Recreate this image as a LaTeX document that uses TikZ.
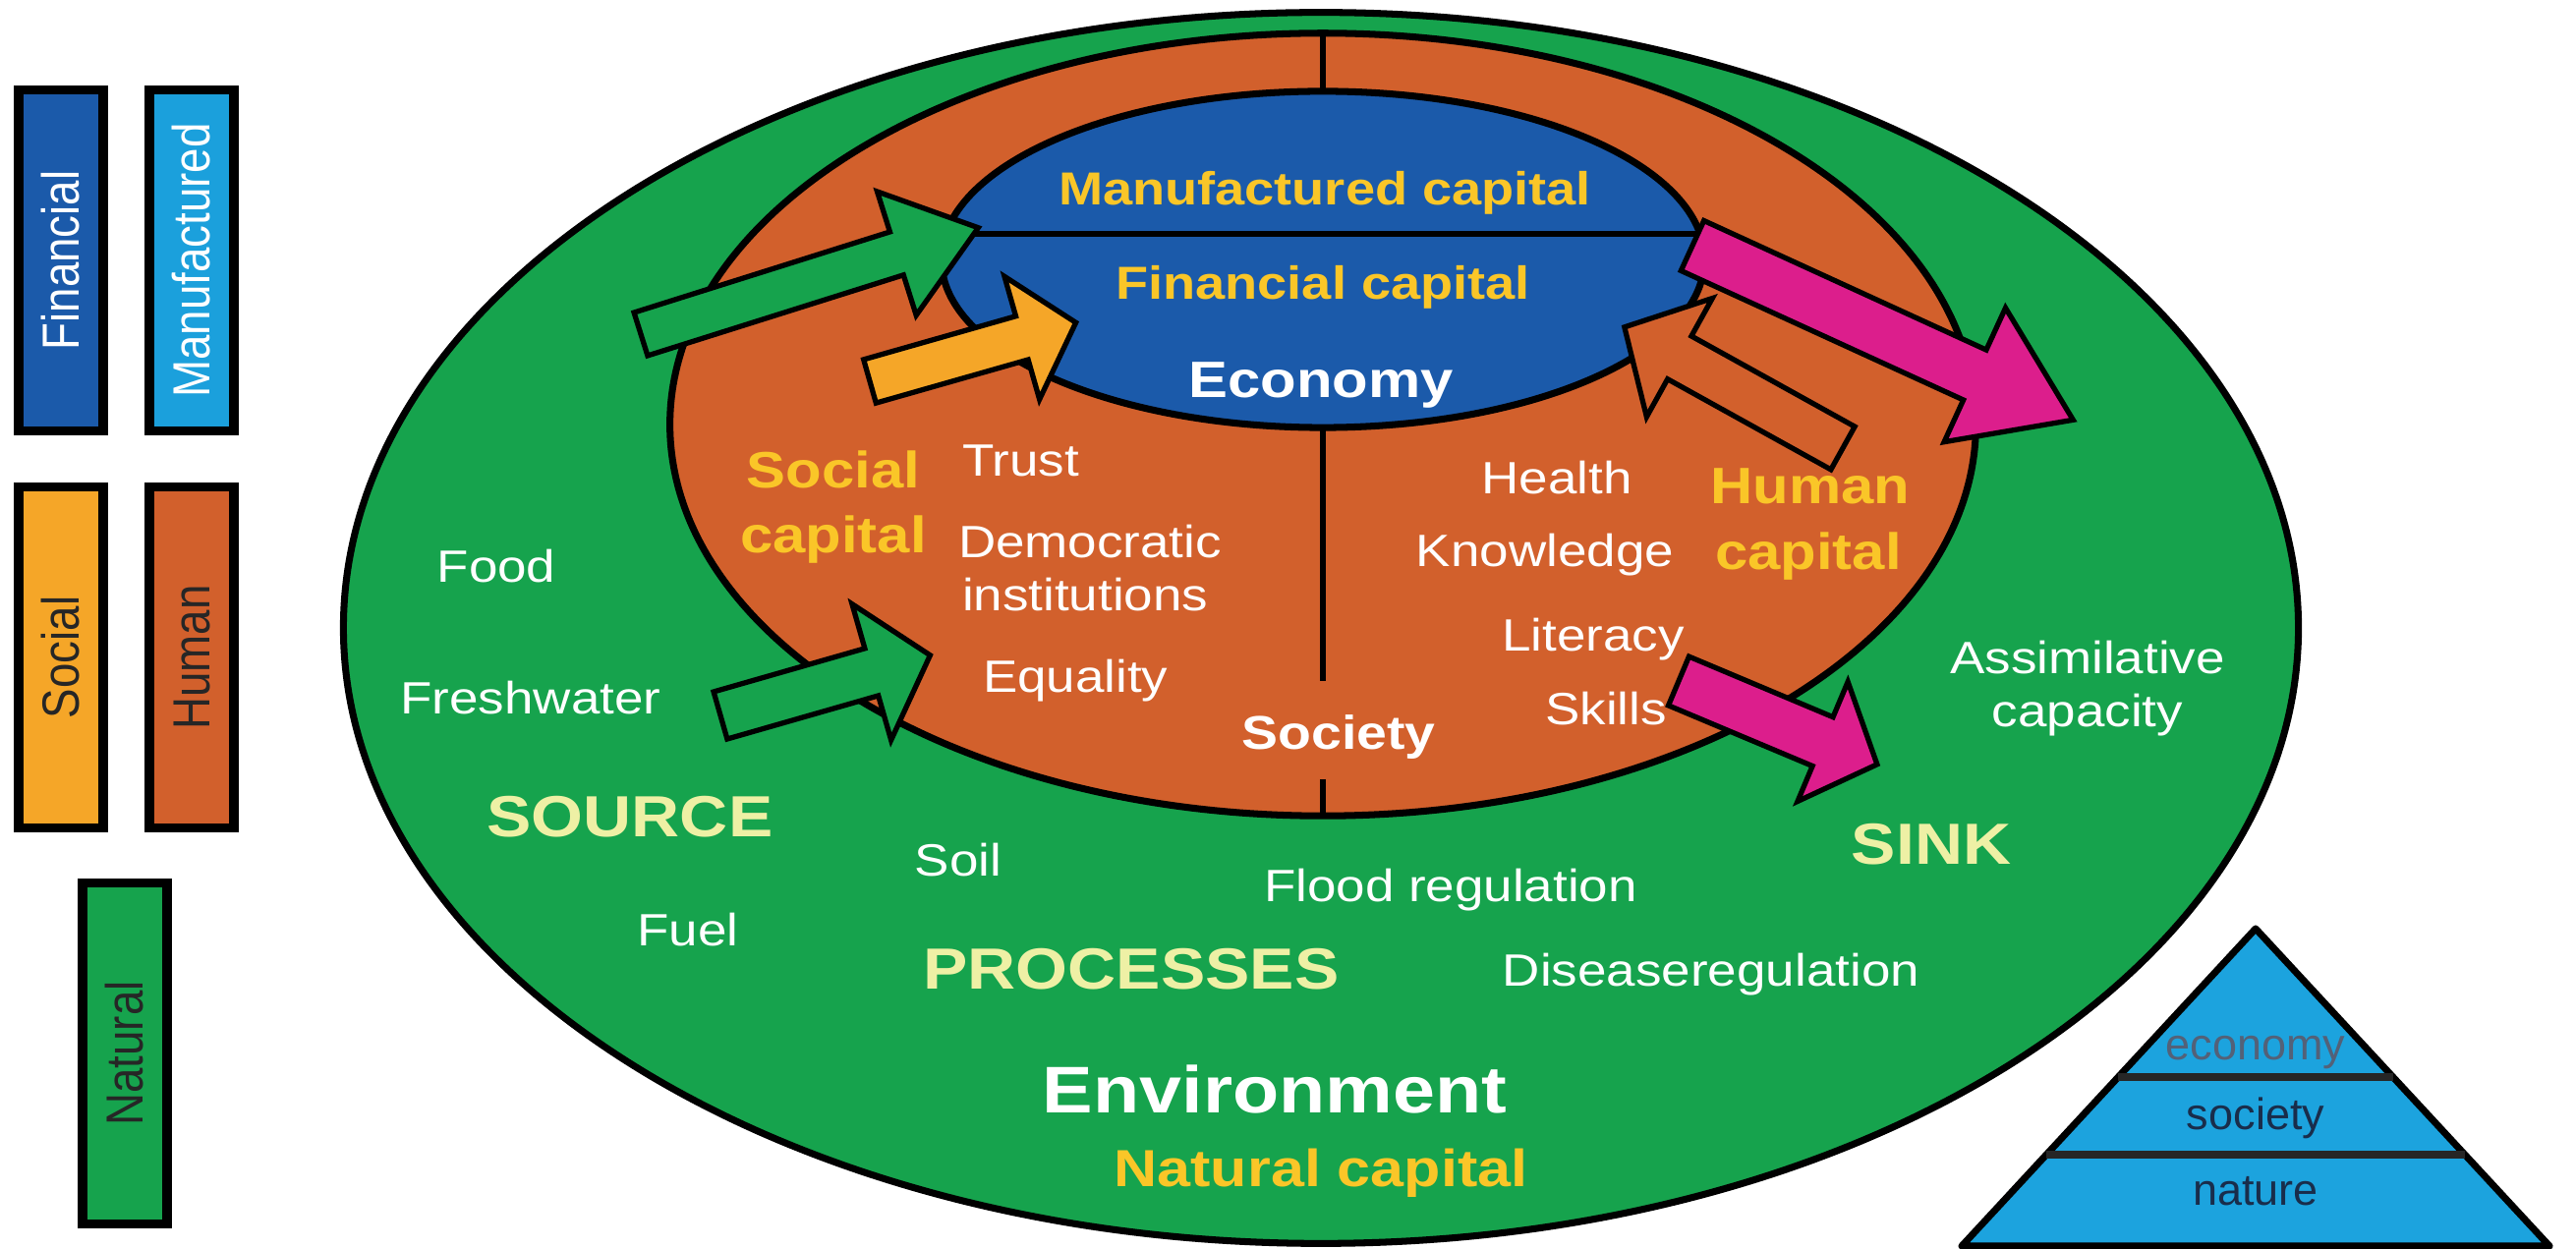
\documentclass[tikz,border=0pt]{standalone}
\usepackage{fontspec}
\setmainfont{Liberation Sans}[FakeStretch=1.15]
\newfontfamily\legendfont{Liberation Sans}[FakeStretch=0.86]
\newfontfamily\pyrfont{Liberation Sans}
\usetikzlibrary{shapes.geometric}
\definecolor{envgreen}{RGB}{22,163,77}
\definecolor{rust}{RGB}{210,96,44}
\definecolor{ecoblue}{RGB}{27,90,170}
\definecolor{manblue}{RGB}{27,160,220}
\definecolor{socorange}{RGB}{245,166,40}
\definecolor{magentaA}{RGB}{220,30,140}
\definecolor{capyellow}{RGB}{250,198,40}
\definecolor{paleyellow}{RGB}{238,240,165}
\definecolor{pyrblue}{RGB}{28,163,222}
\definecolor{navy}{RGB}{25,45,75}
\tikzset{pics/barrow/.style n args={4}{code={
  \path[pic actions] (0,-#2) -- ({#1-#4},-#2) -- ({#1-#4},-#3) -- (#1,0)
     -- ({#1-#4},#3) -- ({#1-#4},#2) -- (0,#2) -- cycle;}}}
\begin{document}
\begin{tikzpicture}[x=0.01cm,y=-0.01cm,
  every node/.style={inner sep=0pt, outer sep=0pt},
  blob/.style={ellipse, draw=black, inner sep=0pt},
  legbox/.style={draw=black, line width=2.6pt, minimum width=3.46cm, minimum height=0.86cm,
     rotate=90, font=\legendfont\fontsize{15.1}{17}\selectfont},
  arrowst/.style={draw=black, line width=1.5pt, line join=miter},
  divline/.style={draw=black, line width=1.6pt},
  reg/.style={font=\fontsize{13.1}{15}\selectfont, text=white},
  capt/.style={font=\bfseries\fontsize{14.8}{17}\selectfont, text=capyellow},
  ecocap/.style={font=\bfseries\fontsize{13.4}{15}\selectfont, text=capyellow},
  zone/.style={font=\bfseries\fontsize{16.8}{19}\selectfont, text=paleyellow},
  pyrlab/.style={font=\pyrfont\fontsize{12.8}{14}\selectfont, text=navy}
]
\useasboundingbox (0,0) rectangle (2621,1271);
\fill[white] (0,0) rectangle (2621,1271);

% legend
\node[legbox, fill=ecoblue, text=white] (lfin) at (62,265) {Financial};
\node[legbox, fill=manblue, text=white] (lman) at (195,265) {Manufactured};
\node[legbox, fill=socorange, text=black!85] (lsoc) at (62,669) {Social};
\node[legbox, fill=rust, text=black!85] (lhum) at (195,669) {Human};
\node[legbox, fill=envgreen, text=black!85] (lnat) at (127,1072) {Natural};

% nested ellipses
\node[blob, fill=envgreen, line width=2pt, minimum width=19.88cm, minimum height=12.52cm] (env) at (1344,639) {};
\node[blob, fill=rust, line width=2pt, minimum width=13.28cm, minimum height=7.96cm] (soc) at (1346,432) {};
\draw[divline] (soc.north) -- (1346,120);
\coordinate (gapA) at (1346,693);
\coordinate (gapB) at (1346,793);
\node[blob, fill=ecoblue, line width=2pt, minimum width=7.76cm, minimum height=3.42cm] (eco) at (1346,264) {};
\draw[divline] (eco.south) -- (gapA);
\draw[divline] (gapB) -- (soc.south);
\coordinate (hlL) at (961,238);
\coordinate (hlR) at (1731,238);
\draw[draw=black, line width=1.5pt] (hlL) -- (hlR);

% block arrows
\pic[arrowst, fill=envgreen, rotate=17.5] (a1) at (652,340) {barrow={360}{23}{66}{87}};
\pic[arrowst, fill=envgreen, rotate=16] (a2) at (733,728) {barrow={222}{25}{72}{62}};
\pic[arrowst, fill=socorange, rotate=15.9] (a3) at (885,388) {barrow={218}{23}{65}{57}};
\pic[arrowst, fill=rust, rotate=151] (a4) at (1875,456) {barrow={254}{25}{69}{64}};
\pic[arrowst, fill=magentaA, rotate=-24.6] (a5) at (1722,250) {barrow={426}{28}{75}{110}};
\pic[arrowst, fill=magentaA, rotate=-22.8] (a6) at (1708,693) {barrow={219}{27}{66}{60}};

% economy texts
\node[ecocap, anchor=base] (tman) at (1348,209) {Manufactured capital};
\node[ecocap, anchor=base] (tfin) at (1346,305) {Financial capital};
\node[font=\bfseries\fontsize{14.8}{17}\selectfont, text=white, anchor=base] (teco) at (1344,405) {Economy};

% society texts
\node[capt, anchor=base] (tsoc1) at (848,497) {Social};
\node[capt, anchor=base] (tsoc2) at (848,563) {capital};
\node[reg, anchor=base west] (ttrust) at (979,485) {Trust};
\node[reg, anchor=base west] (tdemo) at (975,568) {Democratic};
\node[reg, anchor=base west] (tinst) at (979,622) {institutions};
\node[reg, anchor=base west] (tequ) at (1000,705) {Equality};
\node[font=\bfseries\fontsize{13.7}{16}\selectfont, text=white, anchor=base] (tsocy) at (1362,763) {Society};
\node[reg, anchor=base] (thealth) at (1584,503) {Health};
\node[reg, anchor=base] (tknow) at (1572,577) {Knowledge};
\node[reg, anchor=base] (tlit) at (1621,663) {Literacy};
\node[reg, anchor=base] (tskill) at (1634,738) {Skills};
\node[capt, anchor=base] (thum1) at (1842,513) {Human};
\node[capt, anchor=base] (thum2) at (1840,580) {capital};

% environment texts
\node[reg, anchor=base] (tfood) at (505,593) {Food};
\node[reg, anchor=base] (tfresh) at (540,727) {Freshwater};
\node[zone, anchor=base] (tsource) at (641,852) {SOURCE};
\node[reg, anchor=base] (tfuel) at (700,963) {Fuel};
\node[reg, anchor=base] (tsoil) at (975,892) {Soil};
\node[reg, anchor=base] (tflood) at (1476,918) {Flood regulation};
\node[zone, anchor=base] (tproc) at (1151,1007) {PROCESSES};
\node[reg, anchor=base] (tdis) at (1741,1004) {Diseaseregulation};
\node[zone, anchor=base] (tsink) at (1965,880) {SINK};
\node[reg, anchor=base] (tass1) at (2124,686) {Assimilative};
\node[reg, anchor=base] (tass2) at (2124,740) {capacity};
\node[font=\bfseries\fontsize{19.1}{22}\selectfont, text=white, anchor=base] (tenv) at (1297,1133) {Environment};
\node[font=\bfseries\fontsize{15.1}{17}\selectfont, text=capyellow, anchor=base] (tnat) at (1344,1208) {Natural capital};

% pyramid
\draw[fill=pyrblue, line width=2pt, line join=round] (2295,945) -- (2594,1268) -- (1996,1268) -- cycle;
\draw[line width=2.2pt, draw=black!85] (2155,1096) -- (2435,1096);
\draw[line width=2.2pt, draw=black!85] (2082,1175) -- (2508,1175);
\node[pyrlab, text=navy!75, anchor=base] (peco) at (2295,1079) {economy};
\node[pyrlab, anchor=base] (psoc) at (2295,1150) {society};
\node[pyrlab, anchor=base] (pnat) at (2295,1227) {nature};
\end{tikzpicture}
\end{document}
